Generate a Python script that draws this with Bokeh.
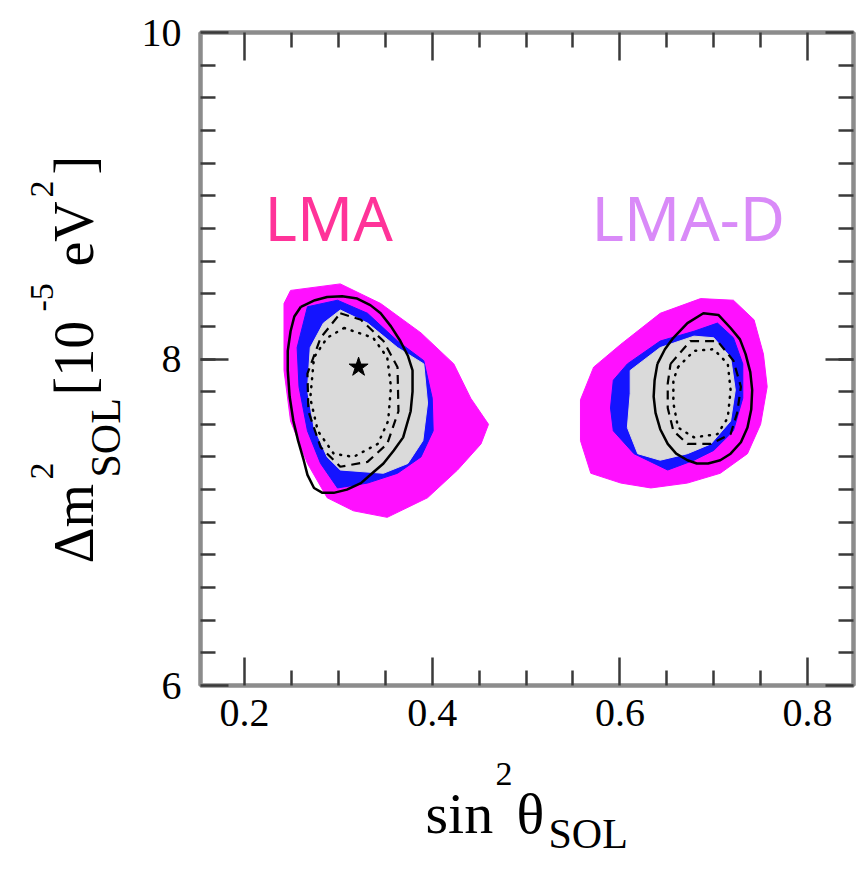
import numpy as np
from bokeh.plotting import figure
from bokeh.layouts import row, column
from bokeh.models import Range1d, LinearAxis, FixedTicker, Label
from bokeh.core.properties import value
from bokeh.embed import file_html
from bokeh.resources import INLINE

# ---------------- data (sin^2 theta_SOL , Delta m^2_SOL [1e-5 eV^2]) ----------------
# LMA region (left)
lma_magenta_x = [0.249, 0.302, 0.345, 0.388, 0.423, 0.441, 0.460, 0.452, 0.427, 0.395, 0.352, 0.316, 0.288, 0.267, 0.249, 0.242, 0.242]
lma_magenta_y = [8.42, 8.46, 8.34, 8.16, 7.97, 7.76, 7.60, 7.48, 7.32, 7.15, 7.03, 7.07, 7.15, 7.36, 7.62, 7.93, 8.34]
lma_blue_x = [0.267, 0.299, 0.331, 0.363, 0.391, 0.400, 0.401, 0.388, 0.363, 0.331, 0.299, 0.281, 0.267, 0.258, 0.256]
lma_blue_y = [8.32, 8.36, 8.28, 8.11, 7.99, 7.76, 7.56, 7.40, 7.30, 7.24, 7.21, 7.36, 7.56, 7.83, 8.07]
lma_gray_x = [0.302, 0.331, 0.363, 0.391, 0.395, 0.390, 0.374, 0.348, 0.302, 0.288, 0.274, 0.267, 0.270, 0.284]
lma_gray_y = [8.30, 8.22, 8.07, 7.97, 7.73, 7.50, 7.36, 7.30, 7.32, 7.40, 7.58, 7.81, 8.07, 8.22]
lma_solid_x = [0.260, 0.275, 0.288, 0.304, 0.320, 0.334, 0.345, 0.356, 0.366, 0.374, 0.379, 0.379, 0.377, 0.369, 0.359, 0.348, 0.336, 0.324, 0.309, 0.295, 0.283, 0.274, 0.267, 0.263, 0.257, 0.252, 0.248, 0.246, 0.246, 0.249, 0.253]
lma_solid_y = [8.32, 8.36, 8.38, 8.385, 8.37, 8.33, 8.28, 8.20, 8.11, 8.02, 7.93, 7.80, 7.68, 7.52, 7.44, 7.36, 7.30, 7.24, 7.20, 7.18, 7.18, 7.21, 7.29, 7.38, 7.50, 7.62, 7.77, 7.93, 8.05, 8.17, 8.26]
lma_dashed_x = [0.302, 0.324, 0.348, 0.363, 0.364, 0.352, 0.331, 0.302, 0.281, 0.268, 0.267, 0.281]
lma_dashed_y = [8.28, 8.24, 8.11, 7.95, 7.68, 7.48, 7.37, 7.34, 7.46, 7.68, 7.91, 8.13]
lma_dotted_x = [0.306, 0.337, 0.352, 0.356, 0.353, 0.342, 0.316, 0.295, 0.278, 0.270, 0.274, 0.288]
lma_dotted_y = [8.19, 8.13, 8.01, 7.83, 7.62, 7.48, 7.40, 7.42, 7.56, 7.76, 8.01, 8.13]

# LMA-D region (right)
lmad_magenta_x = [0.572, 0.601, 0.643, 0.686, 0.721, 0.743, 0.753, 0.757, 0.750, 0.736, 0.707, 0.672, 0.633, 0.601, 0.569, 0.558, 0.558]
lmad_magenta_y = [7.95, 8.09, 8.28, 8.37, 8.36, 8.24, 8.03, 7.83, 7.60, 7.42, 7.30, 7.24, 7.21, 7.24, 7.30, 7.50, 7.75]
lmad_blue_x = [0.593, 0.608, 0.643, 0.679, 0.704, 0.721, 0.731, 0.731, 0.721, 0.700, 0.679, 0.651, 0.615, 0.593, 0.590]
lmad_blue_y = [7.87, 7.97, 8.11, 8.17, 8.22, 8.13, 7.97, 7.76, 7.56, 7.44, 7.38, 7.32, 7.42, 7.56, 7.70]
lmad_gray_x = [0.611, 0.643, 0.679, 0.700, 0.718, 0.723, 0.718, 0.697, 0.672, 0.643, 0.619, 0.608, 0.611]
lmad_gray_y = [7.93, 8.07, 8.14, 8.13, 8.01, 7.81, 7.62, 7.48, 7.42, 7.38, 7.42, 7.58, 7.79]
lmad_solid_x = [0.640, 0.648, 0.657, 0.672, 0.689, 0.705, 0.718, 0.728, 0.734, 0.739, 0.741, 0.740, 0.736, 0.729, 0.718, 0.707, 0.694, 0.682, 0.672, 0.660, 0.651, 0.643, 0.638, 0.636, 0.637]
lmad_solid_y = [7.97, 8.06, 8.13, 8.22, 8.28, 8.27, 8.19, 8.12, 8.03, 7.92, 7.81, 7.69, 7.58, 7.49, 7.42, 7.38, 7.36, 7.36, 7.38, 7.42, 7.48, 7.57, 7.67, 7.77, 7.87]
lmad_dashed_x = [0.654, 0.675, 0.704, 0.721, 0.729, 0.725, 0.718, 0.697, 0.672, 0.657, 0.651, 0.651]
lmad_dashed_y = [7.97, 8.11, 8.11, 7.99, 7.83, 7.67, 7.54, 7.48, 7.48, 7.56, 7.70, 7.85]
lmad_dotted_x = [0.662, 0.679, 0.700, 0.715, 0.718, 0.715, 0.704, 0.679, 0.662, 0.657, 0.657]
lmad_dotted_y = [7.95, 8.05, 8.06, 7.97, 7.81, 7.64, 7.54, 7.52, 7.58, 7.73, 7.87]

best_fit_x = [0.3215]
best_fit_y = [7.95]

x_major = [0.2, 0.4, 0.6, 0.8]
y_major = [6, 8, 10]
x_minor = [0.15, 0.25, 0.3, 0.35, 0.45, 0.5, 0.55, 0.65, 0.7, 0.75, 0.85]
y_minor = [round(v, 1) for v in np.arange(6.2, 10.0, 0.2)]

region_names = ["LMA", "LMA-D"]

# ---------------- colours / geometry ----------------
MAGENTA = "#ff10ff"
BLUE = "#1414ff"
GRAY = "#dadada"
AXIS_GRAY = "#8c8c8c"
SERIF = "Liberation Serif"
K_SERIF = 0.34     # baseline offset (em) of bokeh's text placement for the serif font
K_SANS = 0.38

W, H = 859, 862
LW = 138                              # width of the y-title strip
TH = 750                              # height of the top row
FL, FR, FT, FB = 200, 853, 32, 685    # frame edges (canvas px)
X0, X1, Y0, Y1 = 0.153, 0.849, 6.0, 10.0


def dx(px):
    return X0 + (px - FL) / (FR - FL) * (X1 - X0)


def dy(py):
    return Y0 + (FB - py) / (FB - FT) * (Y1 - Y0)


p = figure(width=W - LW, height=TH, output_backend="svg", toolbar_location=None, title=None,
           x_range=Range1d(X0, X1), y_range=Range1d(Y0, Y1),
           min_border_left=FL - LW, min_border_right=W - FR,
           min_border_top=FT, min_border_bottom=TH - FB,
           background_fill_color="white", border_fill_color="white")
p.grid.visible = False
p.outline_line_color = AXIS_GRAY
p.outline_line_width = 4

p.add_layout(LinearAxis(), "above")
p.add_layout(LinearAxis(), "right")

for ax in p.xaxis:
    ax.ticker = FixedTicker(ticks=x_major, minor_ticks=x_minor)
for ax in p.yaxis:
    ax.ticker = FixedTicker(ticks=y_major, minor_ticks=y_minor)

for ax in p.axis:
    ax.axis_line_color = AXIS_GRAY
    ax.axis_line_width = 4
    ax.major_tick_in = 28
    ax.major_tick_out = 0
    ax.minor_tick_in = 15
    ax.minor_tick_out = 0
    ax.major_tick_line_color = "#3a3a3a"
    ax.major_tick_line_width = 2.5
    ax.minor_tick_line_color = "#3a3a3a"
    ax.minor_tick_line_width = 2.5
    ax.major_label_text_font = SERIF
    ax.major_label_text_font_size = "40px"
    ax.major_label_text_color = "black"
    ax.major_label_standoff = 14

p.left[0].major_label_standoff = 19
for ax in (p.above[0], p.right[0]):
    ax.major_label_text_color = None
    ax.major_label_standoff = 0

# ---------------- filled regions ----------------
for xs, ys, col in [(lma_magenta_x, lma_magenta_y, MAGENTA), (lmad_magenta_x, lmad_magenta_y, MAGENTA),
                    (lma_blue_x, lma_blue_y, BLUE), (lmad_blue_x, lmad_blue_y, BLUE),
                    (lma_gray_x, lma_gray_y, GRAY), (lmad_gray_x, lmad_gray_y, GRAY)]:
    p.patch(xs, ys, fill_color=col, line_color=col, line_width=1)


def closed(a):
    return list(a) + [a[0]]


for xs, ys in [(lma_solid_x, lma_solid_y), (lmad_solid_x, lmad_solid_y)]:
    p.line(closed(xs), closed(ys), line_color="black", line_width=2.5)
for xs, ys in [(lma_dashed_x, lma_dashed_y), (lmad_dashed_x, lmad_dashed_y)]:
    p.line(closed(xs), closed(ys), line_color="black", line_width=2.2, line_dash="9 6")
for xs, ys in [(lma_dotted_x, lma_dotted_y), (lmad_dotted_x, lmad_dotted_y)]:
    p.line(closed(xs), closed(ys), line_color="black", line_width=2.5, line_dash="1 7", line_cap="round")

p.scatter(best_fit_x, best_fit_y, marker="star", size=20, fill_color="black", line_color="black")

# ---------------- region names ----------------
p.add_layout(Label(x=dx(264), y=dy(240 - K_SANS * 62), text=region_names[0], text_font="Noto Sans",
                   text_font_size="62px", text_color="#ff3399", text_baseline="alphabetic"))
p.add_layout(Label(x=dx(591), y=dy(240 - K_SANS * 62), text=region_names[1], text_font="Noto Sans",
                   text_font_size="62px", text_color="#d98af8", text_baseline="alphabetic"))


# ---------------- axis titles: strips whose data units are canvas pixels ----------------
def strip(width, height, y_top, y_bottom):
    f = figure(width=width, height=height, output_backend="svg", toolbar_location=None, title=None,
               x_range=Range1d(0, width), y_range=Range1d(y_bottom, y_top),
               x_axis_location=None, y_axis_location=None, min_border=0,
               outline_line_color=None, background_fill_color="white", border_fill_color="white")
    f.grid.visible = False
    return f


# the y-title strip's frame is aligned with the plot frame (FT..FB)
ytitle = strip(LW, TH, FT, FB)
ytitle_parts = [("\u0394m", 93, 563, 56), ("2", 53, 479, 34), ("SOL", 120, 477, 42),
                ("[10", 93, 395, 56), ("-5", 53, 311, 34), ("eV", 93, 266, 56),
                ("2", 53, 197, 34), ("]", 93, 174, 56)]
for txt, bx, py, fs in ytitle_parts:
    ytitle.text(x=[bx - K_SERIF * fs], y=[py], text=[txt], text_font=value(SERIF),
                text_font_size=value(f"{fs}px"), text_color="black",
                text_baseline="alphabetic", text_align="left", angle=np.pi / 2)

xtitle = strip(W, H - TH, TH, H)
xtitle_parts = [("sin", 425, 833, 58), ("2", 495, 785, 34),
                ("\u03b8", 516, 833, 58), ("SOL", 548, 848, 42)]
for txt, px, by, fs in xtitle_parts:
    xtitle.text(x=[px], y=[by - K_SERIF * fs], text=[txt], text_font=value(SERIF),
                text_font_size=value(f"{fs}px"), text_color="black",
                text_baseline="alphabetic", text_align="left")

layout = column(row(ytitle, p, spacing=0), xtitle, spacing=0)
open("out.html", "w").write(file_html(layout, INLINE))
